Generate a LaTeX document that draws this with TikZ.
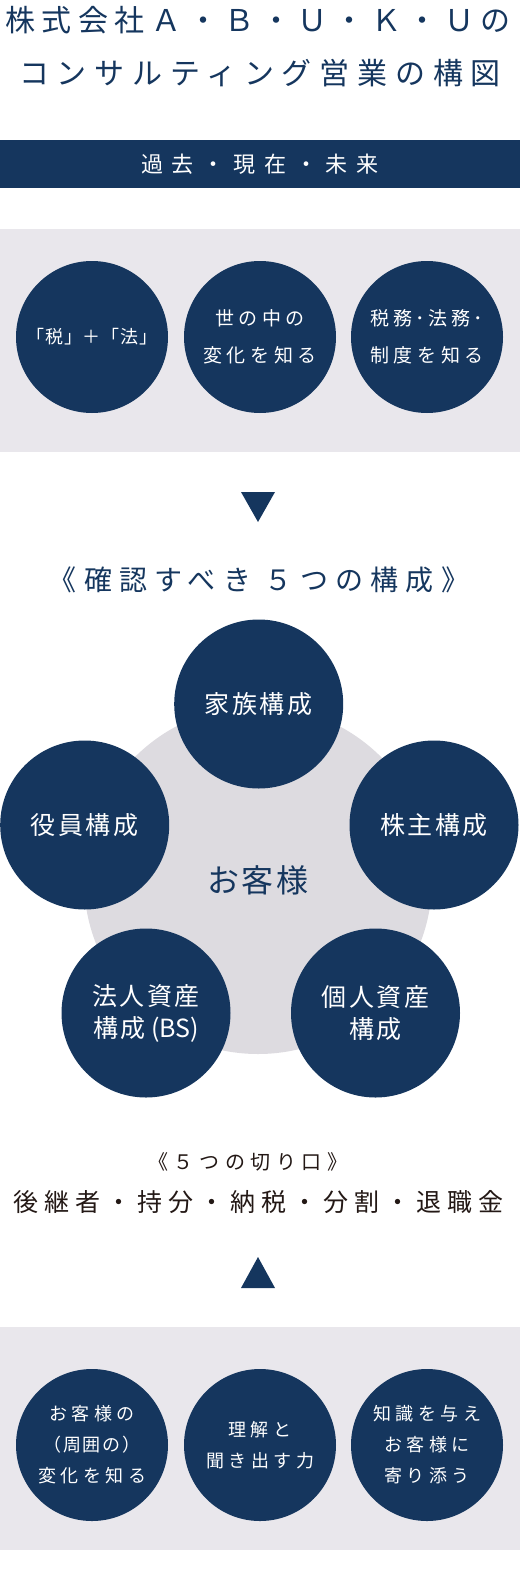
\documentclass[tikz,border=0pt]{standalone}
\usepackage{fontspec}
\setmainfont{Noto Sans CJK JP}
\usetikzlibrary{positioning}
\definecolor{navy}{HTML}{15365E}
\definecolor{bandgray}{HTML}{E9E7EC}
\definecolor{hubgray}{HTML}{DDDBE0}
\definecolor{ink}{HTML}{231815}
\newcommand\spaced[2]{{\addfontfeature{LetterSpace=#1}#2}}

\begin{document}
\begin{tikzpicture}[x=1pt,y=-1pt,
    pillar/.style={circle,fill=navy,text=white,inner sep=0pt,minimum size=152pt,align=center,font=\fontsize{19}{37}\selectfont},
    part/.style={pillar,minimum size=169pt,font=\fontsize{25}{32}\selectfont},
    skill/.style={pillar,font=\fontsize{18}{31}\selectfont},
    band/.style={fill=bandgray,minimum width=520pt,minimum height=222pt,inner sep=0pt},
    heading/.style={text=navy,inner sep=0pt}
  ]
  \useasboundingbox (0,0) rectangle (520,1570);
  \node[heading,font=\fontsize{30}{36}\selectfont] (title1) at (258,20) {\spaced{22}{株式会社Ａ・Ｂ・Ｕ・Ｋ・Ｕの}};
  \node[heading,font=\fontsize{30}{36}\selectfont] (title2) at (260,73) {\spaced{26}{コンサルティング営業の構図}};
  \node[fill=navy,text=white,minimum width=520pt,minimum height=48pt,inner sep=0pt,font=\fontsize{22}{26}\selectfont] (time) at (260,164) {\spaced{40}{過去・現在・未来}};

  \node[band] (pastband) at (260,340.5) {};
  \node[pillar,font=\fontsize{18}{37}\selectfont] (law) at (92,337) {\spaced{4}{「税」＋「法」}};
  \node[pillar] (world) at (260,337) {\spaced{24}{世の中の}\\\spaced{24}{変化を知る}};
  \node[pillar] (system) at (427,337) {\spaced{18}{税務･法務･}\\\spaced{24}{制度を知る}};
  \fill[navy] (241,492) -- (275,492) -- (258,522) -- cycle;

  \node[heading,font=\fontsize{28}{32}\selectfont] (check) at (259,580) {\spaced{26}{《確認すべき ５つの構成》}};
  \node[circle,fill=hubgray,minimum size=348pt,inner sep=0pt,text=navy,font=\fontsize{32}{36}\selectfont] (hub) at (258,880) {\spaced{9}{お客様}};
  \node[part] (family) at (258.7,704) {\spaced{10}{家族構成}};
  \node[part] (officer) at (84.7,825) {\spaced{10}{役員構成}};
  \node[part] (holder) at (434,825) {\spaced{10}{株主構成}};
  \node[part] (corp) at (146,1013) {\spaced{10}{法人資産}\\\spaced{10}{構成}~(BS)};
  \node[part] (person) at (375.5,1013) {\spaced{10}{個人資産}\\\spaced{10}{構成}};

  \node[text=ink,inner sep=0pt,font=\fontsize{20}{24}\selectfont] (angle) at (248,1162) {\spaced{28}{《５つの切り口》}};
  \node[text=ink,inner sep=0pt,font=\fontsize{25}{30}\selectfont] (topics) at (258,1202) {\spaced{24}{後継者・持分・納税・分割・退職金}};
  \fill[navy] (241,1288) -- (275,1288) -- (258,1257) -- cycle;

  \node[band,minimum height=223pt] (skillband) at (260,1438.5) {};
  \node[skill] (listen) at (92,1445) {\spaced{25}{お客様の}\\\spaced{10}{（周囲の）}\\\spaced{25}{変化を知る}};
  \node[skill] (ask) at (260,1445) {\spaced{25}{理解と}\\\spaced{25}{聞き出す力}};
  \node[skill] (support) at (427,1445) {\spaced{25}{知識を与え}\\\spaced{25}{お客様に}\\\spaced{25}{寄り添う}};
\end{tikzpicture}
\end{document}
